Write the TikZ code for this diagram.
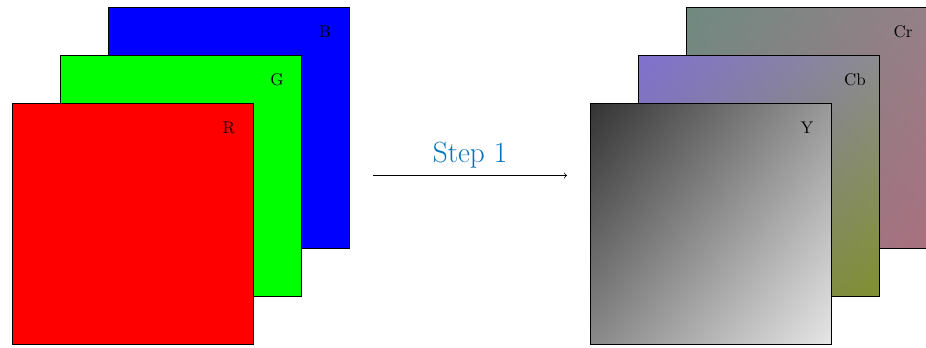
\documentclass[tikz,border=0pt]{standalone}
\usetikzlibrary{shadings}
\definecolor{stepblue}{RGB}{0,114,189}
\definecolor{ycol1}{HTML}{333333}
\definecolor{ycol2}{HTML}{E6E6E6}
\definecolor{ymid1}{HTML}{999999}
\definecolor{ymid2}{HTML}{888888}
\definecolor{cb1}{HTML}{8070D0}
\definecolor{cb2}{HTML}{809030}
\definecolor{cbm1}{HTML}{8C8C90}
\definecolor{cbm2}{HTML}{807E84}
\definecolor{cr1}{HTML}{6F8A80}
\definecolor{cr2}{HTML}{A8707F}
\definecolor{crm1}{HTML}{958088}
\definecolor{crm2}{HTML}{8A7D82}
\tikzset{
  plane/.style={draw=black, minimum size=5cm, inner sep=0pt, outer sep=0pt},
  planelabel/.style={inner sep=0pt, font=\normalsize},
  steplabel/.style={text=stepblue, font=\LARGE, anchor=base}
}
\begin{document}
\begin{tikzpicture}[x=0.020747cm, y=-0.020747cm]
\useasboundingbox (0,0) rectangle (926,347);
% RGB planes
\node[plane, fill=blue] (B) at (228.5,127.5) {};
\node[planelabel] (Blab) at ([shift={(-24,24.5)}]B.north east) {B};
\node[plane, fill=green] (G) at (180.5,175.5) {};
\node[planelabel] (Glab) at ([shift={(-24,24.5)}]G.north east) {G};
\node[plane, fill=red] (R) at (132.5,223.5) {};
\node[planelabel] (Rlab) at ([shift={(-24,24.5)}]R.north east) {R};
% YCbCr planes
\node[plane, shade, upper left=cr1, lower right=cr2, upper right=crm1, lower left=crm2] (Cr) at (806.5,127.5) {};
\node[planelabel] (Crlab) at ([shift={(-24,24.5)}]Cr.north east) {Cr};
\node[plane, shade, upper left=cb1, lower right=cb2, upper right=cbm1, lower left=cbm2] (Cb) at (758.5,175.5) {};
\node[planelabel] (Cblab) at ([shift={(-24,24.5)}]Cb.north east) {Cb};
\node[plane, shade, upper left=ycol1, lower right=ycol2, upper right=ymid1, lower left=ymid2] (Y) at (710.5,223.5) {};
\node[planelabel] (Ylab) at ([shift={(-24,24.5)}]Y.north east) {Y};
% arrow
\coordinate (a1) at (373,175.5);
\coordinate (a2) at (567,175.5);
\draw[->] (a1) -- (a2) node[midway, steplabel, yshift=0.27cm] (step) {Step 1};
\end{tikzpicture}
\end{document}
